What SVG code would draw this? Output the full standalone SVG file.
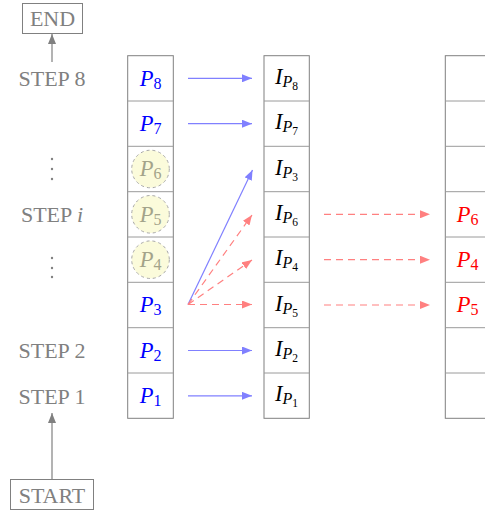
<svg xmlns="http://www.w3.org/2000/svg" width="485" height="511" viewBox="0 0 485 511">
<style>
.box{fill:#fff;stroke:#808080;stroke-width:1}
.div{stroke:#9a9a9a;stroke-width:1}
.lbl{font-family:"Liberation Serif",serif;font-size:22px;fill:#808080}
.m{font-family:"Liberation Serif",serif;font-size:22.5px;font-style:italic}
.s{font-size:16px;font-style:normal}
.s2{font-size:16px}
.ss{font-size:11.5px;font-style:normal}
.blue{fill:#0000ff}
.red{fill:#ff0000}
.blk{fill:#000}
.ghost{fill:#a3a38a}
.circ{fill:#fbfbdb;stroke:#a8a8a8;stroke-width:1;stroke-dasharray:3 3}
.ab{stroke:#8080ff;stroke-width:1.2;fill:none}
.ar{stroke:#ff8080;stroke-width:1.2;fill:none;stroke-dasharray:7 5}
.ag{stroke:#808080;stroke-width:1.2;fill:none}
.dot{fill:#808080}
</style>
<defs>
<marker id="hb" viewBox="0 0 10 8" refX="10" refY="4" markerWidth="10" markerHeight="8" markerUnits="userSpaceOnUse" orient="auto"><path d="M0,0 L10,4 L0,8 Z" fill="#8080ff"/></marker>
<marker id="hr" viewBox="0 0 10 8" refX="10" refY="4" markerWidth="10" markerHeight="8" markerUnits="userSpaceOnUse" orient="auto"><path d="M0,0 L10,4 L0,8 Z" fill="#ff8080"/></marker>
<marker id="hg" viewBox="0 0 10 8" refX="10" refY="4" markerWidth="10" markerHeight="8" markerUnits="userSpaceOnUse" orient="auto"><path d="M0,0 L10,4 L0,8 Z" fill="#808080"/></marker>
</defs>

<g id="end"><rect class="box" x="22.5" y="3.5" width="60" height="30"/><text class="lbl" x="52.5" y="26" text-anchor="middle">END</text></g>
<g id="start"><rect class="box" x="10.5" y="479.5" width="83" height="30"/><text class="lbl" x="52" y="503" text-anchor="middle">START</text></g>

<g id="steps">
<text class="lbl" x="52" y="86" text-anchor="middle">STEP 8</text>
<text class="lbl" x="52" y="222" text-anchor="middle">STEP <tspan font-style="italic">i</tspan></text>
<text class="lbl" x="52" y="358" text-anchor="middle">STEP 2</text>
<text class="lbl" x="52" y="403.5" text-anchor="middle">STEP 1</text>
<circle class="dot" cx="52" cy="159" r="1.2"/><circle class="dot" cx="52" cy="169" r="1.2"/><circle class="dot" cx="52" cy="179" r="1.2"/>
<circle class="dot" cx="52" cy="258" r="1.2"/><circle class="dot" cx="52" cy="268" r="1.2"/><circle class="dot" cx="52" cy="277" r="1.2"/>
</g>

<g id="col1">
<rect class="box" x="127.7" y="55.7" width="45.6" height="362.6"/>
<line class="div" x1="127.7" x2="173.3" y1="101" y2="101"/>
<line class="div" x1="127.7" x2="173.3" y1="146.3" y2="146.3"/>
<line class="div" x1="127.7" x2="173.3" y1="191.7" y2="191.7"/>
<line class="div" x1="127.7" x2="173.3" y1="237" y2="237"/>
<line class="div" x1="127.7" x2="173.3" y1="282.3" y2="282.3"/>
<line class="div" x1="127.7" x2="173.3" y1="327.7" y2="327.7"/>
<line class="div" x1="127.7" x2="173.3" y1="373" y2="373"/>
<circle class="circ" cx="150.5" cy="169" r="18.8"/>
<circle class="circ" cx="150.5" cy="214.3" r="18.8"/>
<circle class="circ" cx="150.5" cy="259.7" r="18.8"/>
<text class="m blue" x="150.5" y="85.5" text-anchor="middle">P<tspan class="s" dy="3">8</tspan></text>
<text class="m blue" x="150.5" y="130.8" text-anchor="middle">P<tspan class="s" dy="3">7</tspan></text>
<text class="m ghost" x="150.5" y="176.2" text-anchor="middle">P<tspan class="s" dy="3">6</tspan></text>
<text class="m ghost" x="150.5" y="221.5" text-anchor="middle">P<tspan class="s" dy="3">5</tspan></text>
<text class="m ghost" x="150.5" y="266.9" text-anchor="middle">P<tspan class="s" dy="3">4</tspan></text>
<text class="m blue" x="150.5" y="312.2" text-anchor="middle">P<tspan class="s" dy="3">3</tspan></text>
<text class="m blue" x="150.5" y="357.5" text-anchor="middle">P<tspan class="s" dy="3">2</tspan></text>
<text class="m blue" x="150.5" y="402.9" text-anchor="middle">P<tspan class="s" dy="3">1</tspan></text>
</g>

<g id="col2">
<rect class="box" x="264" y="55.7" width="45.3" height="362.6"/>
<line class="div" x1="264" x2="309.3" y1="101" y2="101"/>
<line class="div" x1="264" x2="309.3" y1="146.3" y2="146.3"/>
<line class="div" x1="264" x2="309.3" y1="191.7" y2="191.7"/>
<line class="div" x1="264" x2="309.3" y1="237" y2="237"/>
<line class="div" x1="264" x2="309.3" y1="282.3" y2="282.3"/>
<line class="div" x1="264" x2="309.3" y1="327.7" y2="327.7"/>
<line class="div" x1="264" x2="309.3" y1="373" y2="373"/>
<text class="m blk" x="286.6" y="84" text-anchor="middle">I<tspan class="s2" dy="3">P</tspan><tspan class="ss" dy="3">8</tspan></text>
<text class="m blk" x="286.6" y="129.3" text-anchor="middle">I<tspan class="s2" dy="3">P</tspan><tspan class="ss" dy="3">7</tspan></text>
<text class="m blk" x="286.6" y="174.7" text-anchor="middle">I<tspan class="s2" dy="3">P</tspan><tspan class="ss" dy="3">3</tspan></text>
<text class="m blk" x="286.6" y="220" text-anchor="middle">I<tspan class="s2" dy="3">P</tspan><tspan class="ss" dy="3">6</tspan></text>
<text class="m blk" x="286.6" y="265.4" text-anchor="middle">I<tspan class="s2" dy="3">P</tspan><tspan class="ss" dy="3">4</tspan></text>
<text class="m blk" x="286.6" y="310.7" text-anchor="middle">I<tspan class="s2" dy="3">P</tspan><tspan class="ss" dy="3">5</tspan></text>
<text class="m blk" x="286.6" y="356" text-anchor="middle">I<tspan class="s2" dy="3">P</tspan><tspan class="ss" dy="3">2</tspan></text>
<text class="m blk" x="286.6" y="401.4" text-anchor="middle">I<tspan class="s2" dy="3">P</tspan><tspan class="ss" dy="3">1</tspan></text>
</g>

<g id="col3">
<rect class="box" x="445.3" y="55.7" width="100" height="362.6"/>
<line class="div" x1="445.3" x2="485" y1="101" y2="101"/>
<line class="div" x1="445.3" x2="485" y1="146.3" y2="146.3"/>
<line class="div" x1="445.3" x2="485" y1="191.7" y2="191.7"/>
<line class="div" x1="445.3" x2="485" y1="237" y2="237"/>
<line class="div" x1="445.3" x2="485" y1="282.3" y2="282.3"/>
<line class="div" x1="445.3" x2="485" y1="327.7" y2="327.7"/>
<line class="div" x1="445.3" x2="485" y1="373" y2="373"/>
<text class="m red" x="467.5" y="221.5" text-anchor="middle">P<tspan class="s" dy="3">6</tspan></text>
<text class="m red" x="467.5" y="266.9" text-anchor="middle">P<tspan class="s" dy="3">4</tspan></text>
<text class="m red" x="467.5" y="312.2" text-anchor="middle">P<tspan class="s" dy="3">5</tspan></text>
</g>

<g id="connectors">
<line class="ag" x1="52" y1="62" x2="52" y2="34" marker-end="url(#hg)"/>
<line class="ag" x1="52" y1="479" x2="52" y2="413" marker-end="url(#hg)"/>
<line class="ab" x1="188" y1="78.3" x2="252" y2="78.3" marker-end="url(#hb)"/>
<line class="ab" x1="188" y1="123.7" x2="252" y2="123.7" marker-end="url(#hb)"/>
<line class="ab" x1="188" y1="350.5" x2="252" y2="350.5" marker-end="url(#hb)"/>
<line class="ab" x1="188" y1="395.8" x2="252" y2="395.8" marker-end="url(#hb)"/>
<line class="ab" x1="188" y1="304.5" x2="252.5" y2="170" marker-end="url(#hb)"/>
<line class="ar" x1="188" y1="304.5" x2="252" y2="215" marker-end="url(#hr)"/>
<line class="ar" x1="188" y1="304.5" x2="252" y2="260" marker-end="url(#hr)"/>
<line class="ar" x1="188" y1="304.5" x2="252" y2="304.5" marker-end="url(#hr)"/>
<line class="ar" x1="324" y1="214.3" x2="430" y2="214.3" marker-end="url(#hr)"/>
<line class="ar" x1="324" y1="259.7" x2="430" y2="259.7" marker-end="url(#hr)"/>
<line class="ar" x1="324" y1="305" x2="430" y2="305" marker-end="url(#hr)"/>
</g>
</svg>
